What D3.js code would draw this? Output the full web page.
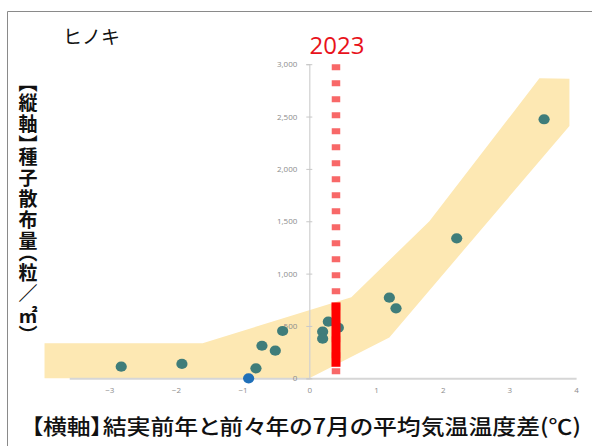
<!DOCTYPE html>
<html>
<head>
<meta charset="utf-8">
<script src="https://cdn.jsdelivr.net/npm/d3@7"></script>
<style>
  html, body { margin: 0; padding: 0; background: #fff; }
  svg { display: block; }
</style>
</head>
<body>
<div id="chart"></div>
<script>
// Temperature difference (°C) vs. seed fall (grains / m²) for hinoki
const xTicks = [-3, -2, -1, 0, 1, 2, 3, 4];
const yTicks = [0, 500, 1000, 1500, 2000, 2500, 3000];

const tempDiff = [-2.82, -1.91, -0.80, -0.71, -0.51, -0.40, 0.20, 0.20, 0.285, 0.435, 1.20, 1.30, 2.21, 3.52];
const seedFall = [111, 137, 95, 311, 264, 452, 445, 378, 541, 483, 770, 668, 1337, 2474];

// a year with no seed fall, drawn in blue
const zeroYearX = [-0.91];
const zeroYearY = [0];

// prediction band (upper edge left→right, lower edge right→left)
const bandUpperX = [-3.97, -1.6, 0.63, 1.8, 3.45, 3.9];
const bandUpperY = [335, 335, 775, 1500, 2865, 2860];
const bandLowerX = [3.9, 1.2, 0, -3.97];
const bandLowerY = [2410, 390, 0, 0];

// 2023 forecast
const forecastYear = "2023";
const forecastX = 0.4;
const forecastRange = [110, 725];

const W = 592, H = 446;
const svg = d3.select("#chart").append("svg")
  .attr("width", W).attr("height", H);

const x = d3.scaleLinear().domain([-3.6, 4]).range([69.2, 576.1]);
const y = d3.scaleLinear().domain([0, 3000]).range([378.3, 64.2]);

// outer frame (top and left edges)
svg.append("path")
  .attr("d", `M7.5,${H} V11.5 H${W}`)
  .attr("fill", "none").attr("stroke", "#8a8a8a").attr("stroke-width", 1);

// prediction band
const bandPts = bandUpperX.map((v, i) => [x(v), y(bandUpperY[i])])
  .concat(bandLowerX.map((v, i) => [x(v), y(bandLowerY[i])]));
svg.append("path")
  .attr("d", d3.line()(bandPts) + "Z")
  .attr("fill", "#fde8b3");

// x axis line (no ticks)
const xAxis = d3.axisBottom(x).tickValues(xTicks).tickSize(0).tickPadding(9)
  .tickFormat(d3.format("d"));
const gx = svg.append("g").attr("transform", `translate(0,${y(0)})`).call(xAxis);
gx.select(".domain").attr("stroke", "#d6d6d6").attr("stroke-width", 2);
gx.selectAll("text").attr("fill", "#8c8c8c").attr("font-size", 8)
  .attr("font-family", "'Open Sans', sans-serif");

// y axis at x = 0
const yAxis = d3.axisLeft(y).tickValues(yTicks).tickSize(3).tickPadding(9)
  .tickFormat(d3.format(","));
const gy = svg.append("g").attr("transform", `translate(${x(0)},0)`).call(yAxis);
gy.select(".domain").attr("stroke", "#d0d0d0").attr("stroke-width", 1.2);
gy.selectAll(".tick line").attr("stroke", "#c8c8c8").attr("x2", 3).attr("x1", -3);
gy.selectAll("text").attr("fill", "#8c8c8c").attr("font-size", 8)
  .attr("font-family", "'Open Sans', sans-serif");

// 2023 dashed marker line
svg.append("line")
  .attr("x1", x(forecastX)).attr("x2", x(forecastX))
  .attr("y1", y(3000)).attr("y2", y(0) - 4)
  .attr("stroke", "#f86868").attr("stroke-width", 8.5)
  .attr("stroke-dasharray", "6,10");

// observed points
svg.append("g").selectAll("ellipse")
  .data(tempDiff.map((v, i) => [v, seedFall[i]]))
  .join("ellipse")
  .attr("cx", d => x(d[0])).attr("cy", d => y(d[1]))
  .attr("rx", 5.6).attr("ry", 5.1)
  .attr("fill", "#3f7d7a");

svg.append("g").selectAll("ellipse")
  .data(zeroYearX.map((v, i) => [v, zeroYearY[i]]))
  .join("ellipse")
  .attr("cx", d => x(d[0])).attr("cy", d => y(d[1]))
  .attr("rx", 5.6).attr("ry", 5.1)
  .attr("fill", "#1f6fb8");

// 2023 forecast range
svg.append("rect")
  .attr("x", x(forecastX) - 4.5).attr("width", 9)
  .attr("y", y(forecastRange[1]))
  .attr("height", y(forecastRange[0]) - y(forecastRange[1]))
  .attr("fill", "#ff0000");

svg.append("text")
  .attr("x", x(forecastX) + 1).attr("y", 54)
  .attr("text-anchor", "middle")
  .attr("font-family", "'Open Sans', sans-serif")
  .attr("font-size", 24)
  .attr("fill", "#e8121b")
  .text(forecastYear);

// species name
svg.append("text")
  .attr("x", 63).attr("y", 44)
  .attr("font-family", "'Noto Sans CJK JP', sans-serif")
  .attr("font-size", 19)
  .attr("fill", "#111")
  .text("ヒノキ");

// vertical y-axis title (proportional vertical metrics keep the brackets compact)
svg.append("text")
  .attr("x", 28).attr("y", 82)
  .attr("font-family", "'Noto Sans CJK JP', sans-serif")
  .attr("font-weight", "bold")
  .attr("font-size", 19)
  .attr("fill", "#111")
  .style("writing-mode", "vertical-rl")
  .style("font-feature-settings", "'vpal' 1")
  .attr("textLength", 254)
  .attr("lengthAdjust", "spacing")
  .text("【縦軸】種子散布量（粒／㎡）");

// x-axis title
svg.append("text")
  .attr("x", 31).attr("y", 434)
  .attr("font-family", "'Noto Sans CJK JP', sans-serif")
  .attr("font-size", 21)
  .attr("font-weight", 500)
  .attr("fill", "#111")
  .style("font-feature-settings", "'palt' 1")
  .attr("textLength", 550)
  .attr("lengthAdjust", "spacingAndGlyphs")
  .text("【横軸】結実前年と前々年の7月の平均気温温度差(℃)");
</script>
</body>
</html>
